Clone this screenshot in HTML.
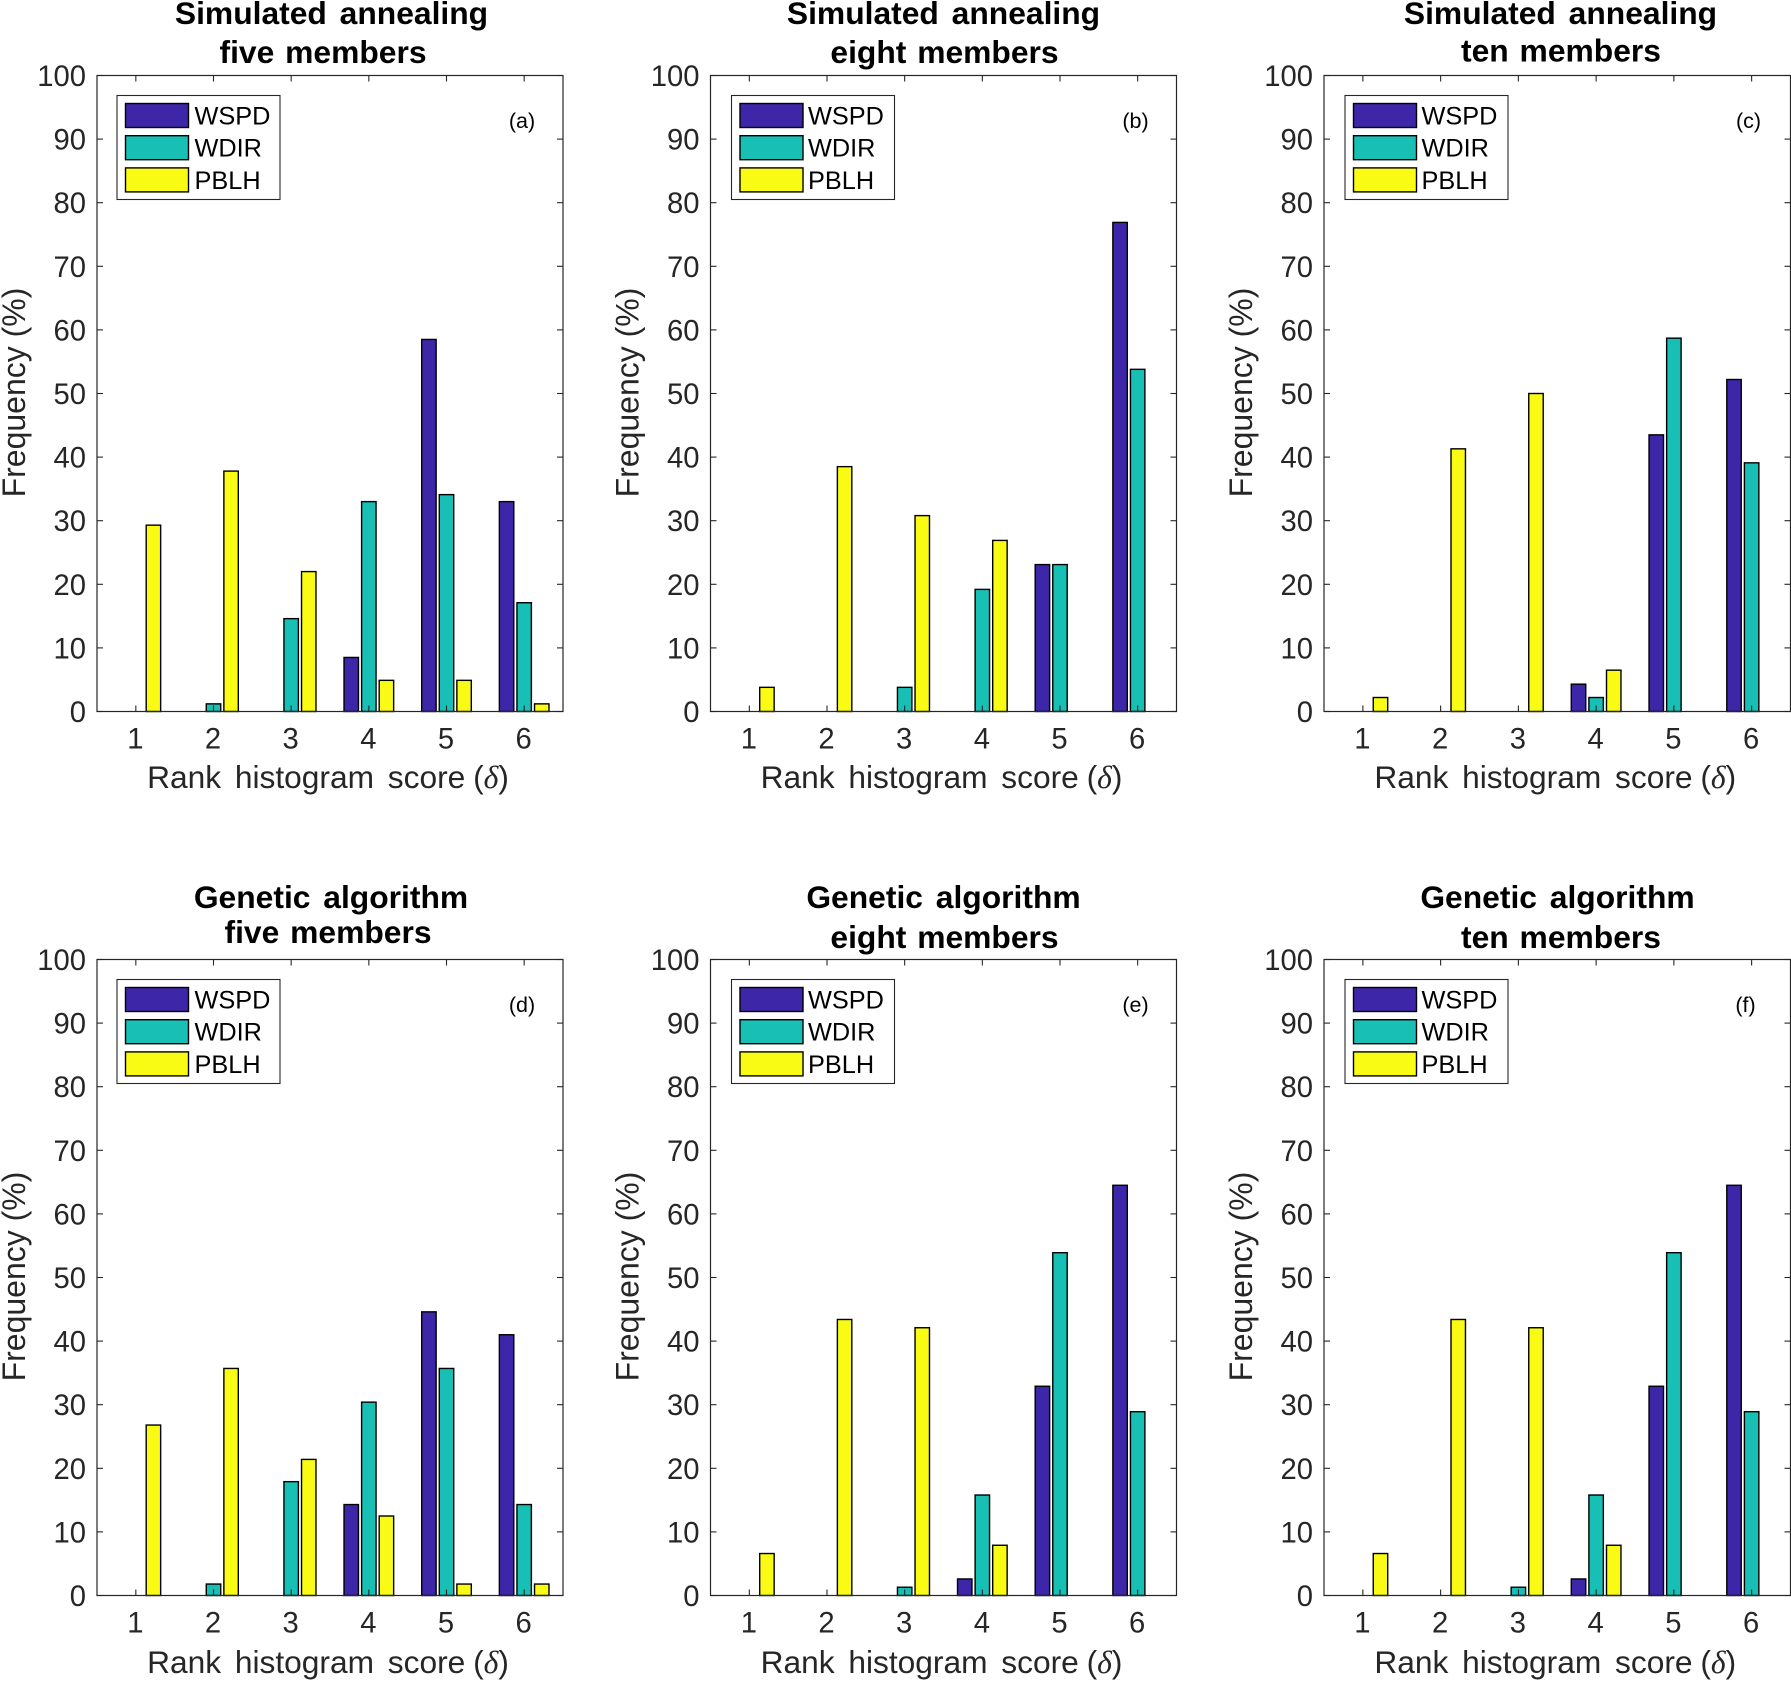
<!DOCTYPE html>
<html>
<head>
<meta charset="utf-8">
<title>Rank histogram frequency panels</title>
<style>
html,body{margin:0;padding:0;background:#fff;width:1791px;height:1681px;overflow:hidden}
svg{display:block}
text{font-family:"Liberation Sans",sans-serif}
</style>
</head>
<body>
<svg id="figure" xmlns="http://www.w3.org/2000/svg" width="1791" height="1681" viewBox="0 0 1791 1681"></svg>
<script>
const categories = [1, 2, 3, 4, 5, 6];
const yTicks = [0, 10, 20, 30, 40, 50, 60, 70, 80, 90, 100];
const seriesNames = ['WSPD', 'WDIR', 'PBLH'];

const wspdA = [0, 0, 0, 8.5, 58.5, 33];
const wdirA = [0, 1.2, 14.6, 33, 34.1, 17.1];
const pblhA = [29.3, 37.8, 22, 4.9, 4.9, 1.2];

const wspdB = [0, 0, 0, 0, 23.1, 76.9];
const wdirB = [0, 0, 3.8, 19.2, 23.1, 53.8];
const pblhB = [3.8, 38.5, 30.8, 26.9, 0, 0];

const wspdC = [0, 0, 0, 4.3, 43.5, 52.2];
const wdirC = [0, 0, 0, 2.2, 58.7, 39.1];
const pblhC = [2.2, 41.3, 50, 6.5, 0, 0];

const wspdD = [0, 0, 0, 14.3, 44.6, 41];
const wdirD = [0, 1.8, 17.9, 30.4, 35.7, 14.3];
const pblhD = [26.8, 35.7, 21.4, 12.5, 1.8, 1.8];

const wspdE = [0, 0, 0, 2.6, 32.9, 64.5];
const wdirE = [0, 0, 1.3, 15.8, 53.9, 28.9];
const pblhE = [6.6, 43.4, 42.1, 7.9, 0, 0];

const wspdF = [0, 0, 0, 2.6, 32.9, 64.5];
const wdirF = [0, 0, 1.3, 15.8, 53.9, 28.9];
const pblhF = [6.6, 43.4, 42.1, 7.9, 0, 0];

const SVG_NS = 'http://www.w3.org/2000/svg';
const svg = document.getElementById('figure');
const seriesColors = ['#3e26a8', '#18bfb5', '#f9fb15'];
const INK = '#262626';

function make(parent, tag, attrs, content) {
  const el = document.createElementNS(SVG_NS, tag);
  for (const k in attrs) el.setAttribute(k, attrs[k]);
  if (content !== undefined) el.textContent = content;
  parent.appendChild(el);
  return el;
}

function drawPanel(p) {
  const left = p.left, right = p.right, top = p.top, bottom = p.bottom;
  const xScale = v => left + (v - 0.5) / 6 * (right - left);
  const yScale = v => bottom - v / 100 * (bottom - top);
  const group = make(svg, 'g', {});
  
  

  // bars
  const barW = 0.186, offsets = [-0.2265, 0, 0.2265];
  p.series.forEach((vals, s) => {
    vals.forEach((v, i) => {
      if (v <= 0) return;
      const x0 = xScale(categories[i] + offsets[s] - barW / 2);
      const x1 = xScale(categories[i] + offsets[s] + barW / 2);
      const bar = make(group, 'rect', {x: x0, y: yScale(v), width: x1 - x0, height: yScale(0) - yScale(v), fill: seriesColors[s], stroke: '#000', 'stroke-width': 1.4});
      
      
    });
  });

  // axes box
  const box = make(group, 'rect', {x: left, y: top, width: right - left, height: bottom - top, fill: 'none', stroke: INK, 'stroke-width': 1.2});
  
  

  // x ticks
  categories.forEach(c => {
    const x = xScale(c);
    const t1 = make(group, 'line', {x1: x, x2: x, y1: bottom, y2: bottom - 6, stroke: INK, 'stroke-width': 1.1});
    
    
    const t2 = make(group, 'line', {x1: x, x2: x, y1: top, y2: top + 6, stroke: INK, 'stroke-width': 1.1});
    
    
    const lab = make(group, 'text', {x: x - 0.5, y: bottom + 37, 'text-anchor': 'middle', 'font-size': 29.2, fill: INK}, String(c));
    
    
  });

  // y ticks
  yTicks.forEach(v => {
    const y = yScale(v);
    const t1 = make(group, 'line', {x1: left, x2: left + 6, y1: y, y2: y, stroke: INK, 'stroke-width': 1.1});
    
    
    const t2 = make(group, 'line', {x1: right, x2: right - 6, y1: y, y2: y, stroke: INK, 'stroke-width': 1.1});
    
    
    const lab = make(group, 'text', {x: left - 11, y: y + 10.5, 'text-anchor': 'end', 'font-size': 29.2, fill: INK}, String(v));
    
    
  });

  // axis titles
  const cx = (left + right) / 2;
  const xt = make(group, 'text', {x: cx - 2, y: bottom + 76.5 + (p.xTitleDy || 0), 'text-anchor': 'middle', 'font-size': 31.7, fill: INK, 'word-spacing': 5});
  
  
  make(xt, 'tspan', {}, 'Rank histogram score ');
  make(xt, 'tspan', {dx: -6}, '(');
  const delta = make(xt, 'tspan', {'font-family': '"Liberation Serif",serif', 'font-style': 'italic'}, 'δ');
  
  
  make(xt, 'tspan', {}, ')');

  const yMid = (top + bottom) / 2 - 1;
  const yt = make(group, 'text', {x: left - 72, y: yMid, 'text-anchor': 'middle', 'font-size': 32, fill: INK, transform: 'rotate(-90 ' + (left - 72) + ' ' + yMid + ')'}, 'Frequency (%)');
  
  

  // chart title
  const t1 = make(group, 'text', {x: p.t1x, y: p.t1y, 'text-anchor': 'middle', 'font-size': 31.8, 'font-weight': 'bold', fill: '#000', 'word-spacing': 4}, p.title1);
  
  
  const t2 = make(group, 'text', {x: p.t2x, y: p.t2y, 'text-anchor': 'middle', 'font-size': 31.8, 'font-weight': 'bold', fill: '#000', 'word-spacing': 2}, p.title2);
  
  

  // panel letter
  const letter = make(group, 'text', {x: right - 41 + (p.letterDx || 0), y: top + 52.5, 'text-anchor': 'middle', 'font-size': 21.5, fill: '#000'}, p.letter);
  
  

  // legend
  const lgX = left + (p.legendDx || 0);
  const legend = make(group, 'g', {});
  
  
  const lgBox = make(legend, 'rect', {x: lgX + 20, y: top + 20, width: 163, height: 104, fill: '#fff', stroke: INK, 'stroke-width': 1.1});
  
  
  seriesNames.forEach((n, i) => {
    const ky = top + 28 + i * 32.2;
    const key = make(legend, 'rect', {x: lgX + 28.5, y: ky, width: 63, height: 24, fill: seriesColors[i], stroke: '#000', 'stroke-width': 1.4});
    
    
    const txt = make(legend, 'text', {x: left + 97.5, y: ky + 21, 'font-size': 25.3, fill: '#000'}, n);
    
    
  });
}

drawPanel({key: 'a', letter: '(a)', left: 97, right: 563, top: 75.5, bottom: 711.5, series: [wspdA, wdirA, pblhA], title1: 'Simulated annealing', title2: 'five members', t1x: 331.5, t2x: 323, t1y: 24, t2y: 63});
drawPanel({key: 'b', letter: '(b)', left: 710.5, right: 1176.5, top: 75.5, bottom: 711.5, legendDx: 1, series: [wspdB, wdirB, pblhB], title1: 'Simulated annealing', title2: 'eight members', t1x: 943.5, t2x: 944.5, t1y: 24, t2y: 63});
drawPanel({key: 'c', letter: '(c)', letterDx: -1, left: 1324, right: 1790.5, top: 75.5, bottom: 711.5, legendDx: 1, series: [wspdC, wdirC, pblhC], title1: 'Simulated annealing', title2: 'ten members', t1x: 1560.5, t2x: 1561, t1y: 24, t2y: 61.5});
drawPanel({key: 'd', letter: '(d)', xTitleDy: 1, left: 97, right: 563, top: 959.5, bottom: 1595.5, series: [wspdD, wdirD, pblhD], title1: 'Genetic algorithm', title2: 'five members', t1x: 331, t2x: 328, t1y: 908, t2y: 943});
drawPanel({key: 'e', letter: '(e)', xTitleDy: 1, left: 710.5, right: 1176.5, top: 959.5, bottom: 1595.5, legendDx: 1, series: [wspdE, wdirE, pblhE], title1: 'Genetic algorithm', title2: 'eight members', t1x: 943.5, t2x: 944.5, t1y: 908, t2y: 948});
drawPanel({key: 'f', letter: '(f)', letterDx: -4, xTitleDy: 1, left: 1324, right: 1790.5, top: 959.5, bottom: 1595.5, legendDx: 1, series: [wspdF, wdirF, pblhF], title1: 'Genetic algorithm', title2: 'ten members', t1x: 1557.5, t2x: 1561, t1y: 908, t2y: 948});
</script>
</body>
</html>
